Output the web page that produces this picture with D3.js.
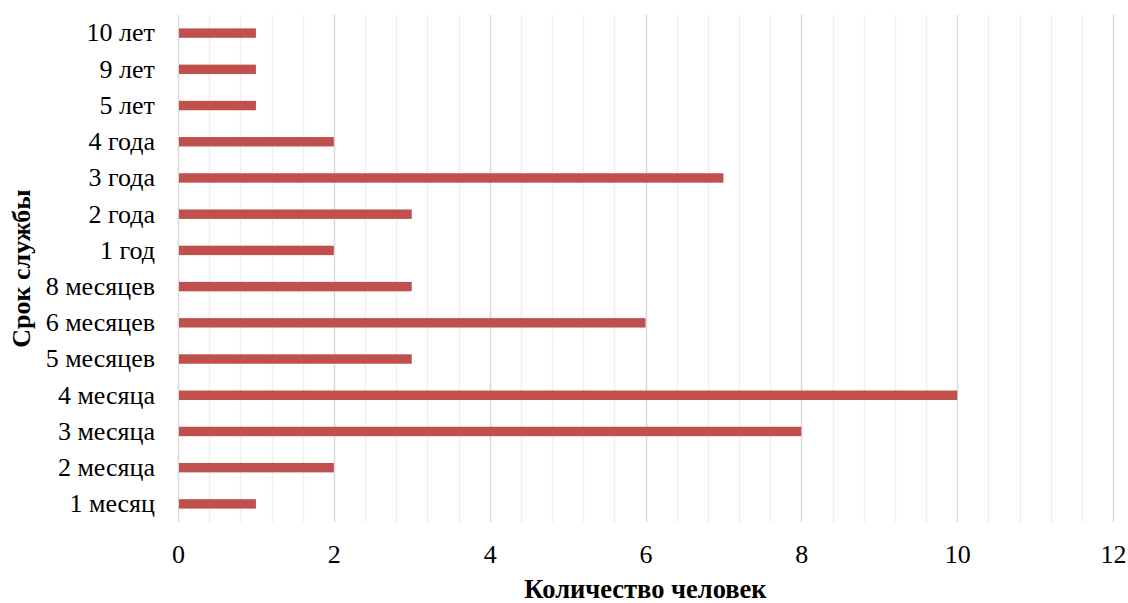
<!DOCTYPE html>
<html>
<head>
<meta charset="utf-8">
<script src="https://cdn.jsdelivr.net/npm/d3@7/dist/d3.min.js"></script>
<style>
  html, body { margin: 0; padding: 0; background: #fff; }
  svg { display: block; }
  svg text { font-family: "Liberation Serif", "Times New Roman", Times, serif !important; fill: #000; }
</style>
</head>
<body>
<svg id="chart" width="1128" height="603"></svg>
<script>
// Service length categories (bottom to top) and head counts
const categories = ["1 месяц", "2 месяца", "3 месяца", "4 месяца", "5 месяцев", "6 месяцев",
  "8 месяцев", "1 год", "2 года", "3 года", "4 года", "5 лет", "9 лет", "10 лет"];
const counts = [1, 2, 8, 10, 3, 6, 3, 2, 3, 7, 2, 1, 1, 1];
const xTicks = [0, 2, 4, 6, 8, 10, 12];
const xTitle = "Количество человек";
const yTitle = "Срок службы";

const svg = d3.select("#chart");
const margin = { left: 178, right: 15, top: 15, bottom: 81 };
const W = 1128, H = 603;
const plotW = W - margin.left - margin.right;
const plotH = H - margin.top - margin.bottom;

const x = d3.scaleLinear().domain([0, 12]).range([margin.left, margin.left + plotW]);
const y = d3.scaleBand()
  .domain(categories.slice().reverse())
  .range([margin.top, margin.top + plotH])
  .paddingInner(0.74).paddingOuter(0.37);

// Minor gridlines every 0.4, major every 2
const minor = d3.range(0, 12.0001, 0.4).filter(v => Math.abs(v / 2 - Math.round(v / 2)) > 1e-6);
svg.append("g").selectAll("line").data(minor).join("line")
  .attr("x1", d => Math.round(x(d)) + 0.5).attr("x2", d => Math.round(x(d)) + 0.5)
  .attr("y1", margin.top).attr("y2", margin.top + plotH)
  .attr("stroke", "#efefef").attr("stroke-width", 1.5);
svg.append("g").selectAll("line").data(xTicks).join("line")
  .attr("x1", d => Math.round(x(d)) + 0.5).attr("x2", d => Math.round(x(d)) + 0.5)
  .attr("y1", margin.top).attr("y2", margin.top + plotH)
  .attr("stroke", "#d9d9d9").attr("stroke-width", 1.5);

// Bars
svg.append("g").selectAll("rect").data(categories).join("rect")
  .attr("x", x(0) + 1)
  .attr("y", d => y(d))
  .attr("width", (d, i) => x(counts[i]) - x(0) - 1)
  .attr("height", y.bandwidth())
  .attr("fill", "#c0504d");

// X tick labels (baseline about 41px below the plot)
const xAxis = d3.axisBottom(x).tickValues(xTicks).tickSize(0).tickPadding(0);
const gx = svg.append("g").attr("transform", `translate(0,${margin.top + plotH + 15})`).call(xAxis);
gx.select(".domain").remove();
gx.selectAll("text").attr("font-size", 26).attr("dy", null).attr("y", 26).attr("fill", "#000");

// Y category labels
const yAxis = d3.axisLeft(y).tickSize(0).tickPadding(23);
const gy = svg.append("g").attr("transform", `translate(${margin.left},0)`).call(yAxis);
gy.select(".domain").remove();
gy.selectAll("text").attr("font-size", 26).attr("fill", "#000");

// Axis titles
svg.append("text").attr("x", x(6)).attr("y", 598)
  .attr("text-anchor", "middle").attr("font-size", 26.5).attr("font-weight", "bold")
  .text(xTitle);
svg.append("text").attr("transform", `translate(30,${margin.top + plotH / 2}) rotate(-90)`)
  .attr("text-anchor", "middle").attr("font-size", 26).attr("font-weight", "bold")
  .text(yTitle);
</script>
</body>
</html>
